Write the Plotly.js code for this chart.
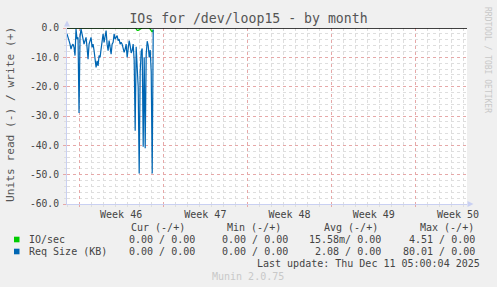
<!DOCTYPE html>
<html>
<head>
<meta charset="utf-8">
<script src="https://cdn.plot.ly/plotly-3.0.1.min.js"></script>
<style>
  html, body { margin: 0; padding: 0; background: #F0F0F0; }
  #chart { width: 497px; height: 287px; }
</style>
</head>
<body>
<div id="chart"></div>
<script>
// ---- data (x in days since Monday of Week 46) ----
const firstSampleDay = -1.0;      // first sample time
const sampleStepDays = 1 / 12;    // 2-hour consolidated samples

// Req Size (KB), read side (drawn negative)
const reqSizeRead = [
  -2.0, -3.8, -4.3, -5.5, -7.2, -6.0, -5.5, -6.6, -9.4, -0.3,
  -3.8, -3.2, -29.0, -3.0, -0.3, -2.0, -3.8, -5.5, -4.3, -3.2,
  -6.6, -10.6, -5.5, -3.8, -3.2, -6.6, -5.5, -7.7, -11.7, -13.4,
  -11.2, -12.9, -9.4, -10.0, -7.2, -4.3, -2.0, -4.9, -3.2, -0.9,
  -5.5, -7.7, -4.3, -6.6, -8.9, -5.5, -4.9, -2.0, -3.8, -3.2,
  -2.6, -4.3, -3.8, -5.5, -4.9, -5.5, -6.6, -8.3, -7.2, -5.5,
  -10.0, -6.6, -4.3, -6.0, -8.5, -7.7, -5.5, -11.0, -35.0, -6.4,
  -12.0, -20.0, -49.6, -15.0, -8.0, -7.0, -40.5, -10.0, -41.0, -9.0,
  -4.5, -6.0, -10.0, -7.5, -15.0, -49.6, -0.5
];
// IO/sec, read side (drawn negative)
const ioSecRead = [
  0, 0, 0, 0, 0, 0, 0, 0, 0, 0,
  0, 0, 0, 0, 0, 0, 0, 0, 0, 0,
  0, 0, 0, 0, 0, 0, 0, 0, 0, 0,
  0, 0, 0, 0, 0, 0, 0, 0, 0, 0,
  0, 0, 0, 0, 0, 0, 0, 0, 0, 0,
  0, 0, 0, 0, 0, 0, 0, 0, 0, 0,
  0, 0, 0, 0, 0, 0, 0, 0, 0, -0.3,
  -0.8, -0.8, -0.6, -0.3, 0, 0, 0, 0, 0, 0,
  0, 0, 0, -0.4, -1.2, -1.4, -0.6
];

const weekStarts   = [0, 7, 14, 21, 28];
const weekCenters  = [3.5, 10.5, 17.5, 24.5, 31.5];
const weekLabels   = ['Week 46', 'Week 47', 'Week 48', 'Week 49', 'Week 50'];
const yTickValues  = [0, -10, -20, -30, -40, -50, -60];
const yTickLabels  = ['0.0', '-10.0', '-20.0', '-30.0', '-40.0', '-50.0', '-60.0'];

const legendNames  = ['IO/sec', 'Req Size (KB)'];
const legendColors = ['#00CC00', '#0066B3'];
const colHeaders   = ['Cur (-/+)', 'Min (-/+)', 'Avg (-/+)', 'Max (-/+)'];
const curValues    = ['0.00 / 0.00', '0.00 / 0.00'];
const minValues    = ['0.00 / 0.00', '0.00 / 0.00'];
const avgValues    = ['15.58m/ 0.00', '2.08 / 0.00'];
const maxValues    = ['4.51 / 0.00', '80.01 / 0.00'];
const lastUpdate   = 'Last update: Thu Dec 11 05:00:04 2025';
const versionText  = 'Munin 2.0.75';
const sideText     = 'RRDTOOL / TOBI OETIKER';

// ---- layout helpers (pixel -> paper) ----
const W = 497, H = 287, L = 67, R = 467, T = 28, B = 204;
const px = v => (v - L) / (R - L);
const py = v => (B - v) / (B - T);

const times = reqSizeRead.map((_, i) => firstSampleDay + i * sampleStepDays);
const xRange = [-1.0, 32.25];

const MONO = 'DejaVu Sans Mono, monospace';
const axisBlue = '#c9d0f2';
const majorGrid = '#e6a8a8';
const minorGrid = '#dedede';

const traces = [
  { x: times, y: ioSecRead, type: 'scatter', mode: 'lines',
    line: { color: legendColors[0], width: 1.2 }, hoverinfo: 'skip' },
  { x: times, y: reqSizeRead, type: 'scatter', mode: 'lines',
    line: { color: legendColors[1], width: 1.2 }, hoverinfo: 'skip' },
  // invisible trace to activate the grid axis
  { x: xRange, y: [null, null], xaxis: 'x2', yaxis: 'y', type: 'scatter',
    mode: 'lines', hoverinfo: 'skip', showlegend: false }
];

const ann = [];
const txt = (x, y, text, opt = {}) => ann.push(Object.assign({
  xref: 'paper', yref: 'paper', x: px(x), y: py(y), text: text,
  showarrow: false, xanchor: 'left', yanchor: 'middle',
  font: { family: MONO, size: 10, color: '#444' }
}, opt));

// y-axis title
txt(11, 115, 'Units read (-) / write (+)', { xanchor: 'center', textangle: -90,
  font: { family: MONO, size: 11.2, color: '#555' } });
// side text
txt(487, 60, sideText, { xanchor: 'center', textangle: 90,
  font: { family: MONO, size: 8, color: '#c8c8c8' } });

// legend table
const headerRight = [187, 283, 380, 476];
colHeaders.forEach((h, i) => txt(headerRight[i], 227.5, h, { xanchor: 'right' }));
const valueRight = [197, 290, 383, 477];
const rowsY = [239.5, 251.5];
legendNames.forEach((n, r) => {
  txt(26.5, rowsY[r], n);
  [curValues, minValues, avgValues, maxValues].forEach((col, c) =>
    txt(valueRight[c], rowsY[r], col[r], { xanchor: 'right' }));
});
txt(482, 263.5, lastUpdate, { xanchor: 'right' });
txt(247.5, 276, versionText, { xanchor: 'center',
  font: { family: MONO, size: 10, color: '#c8c8c8' } });

const shapes = [
  // HRULE at zero
  { type: 'line', xref: 'paper', yref: 'y', x0: 0, x1: 1, y0: 0, y1: 0,
    line: { color: '#000000', width: 1.5 }, layer: 'above' },
  // axis arrows
  { type: 'path', xref: 'paper', yref: 'paper',
    path: `M ${px(64)} ${py(26.5)} L ${px(67)} ${py(20.5)} L ${px(70)} ${py(26.5)} Z`,
    fillcolor: axisBlue, line: { width: 0 } },
  { type: 'path', xref: 'paper', yref: 'paper',
    path: `M ${px(467.5)} ${py(201)} L ${px(473.5)} ${py(204)} L ${px(467.5)} ${py(207)} Z`,
    fillcolor: axisBlue, line: { width: 0 } }
];
legendColors.forEach((c, r) => shapes.push({
  type: 'rect', xref: 'paper', yref: 'paper',
  x0: px(14), x1: px(19.5), y0: py(rowsY[r] - 2.8), y1: py(rowsY[r] + 2.8),
  fillcolor: c, line: { width: 0 }
}));

const layout = {
  width: W, height: H,
  margin: { l: L, r: W - R, t: T, b: H - B, pad: 0 },
  paper_bgcolor: '#F0F0F0', plot_bgcolor: '#FFFFFF',
  showlegend: false,
  title: { text: 'IOs for /dev/loop15 - by month', x: 0.5, xanchor: 'center',
    y: 1 - 18.5 / H, yanchor: 'middle', yref: 'container',
    font: { family: MONO, size: 13.2, color: '#555' } },
  xaxis: {
    range: xRange, tickmode: 'array', tickvals: weekCenters, ticktext: weekLabels,
    showgrid: false, zeroline: false, ticks: '', showline: true,
    linecolor: axisBlue, linewidth: 1,
    tickfont: { family: MONO, size: 10, color: '#444' }, ticklabelstandoff: 1
  },
  xaxis2: {
    overlaying: 'x', anchor: 'y', side: 'bottom', range: xRange,
    tickmode: 'array', tickvals: weekStarts, showticklabels: false,
    showgrid: true, gridcolor: majorGrid, griddash: 'dot', gridwidth: 1,
    ticks: 'outside', ticklen: 2, tickcolor: majorGrid, zeroline: false,
    minor: { tickmode: 'linear', tick0: 0, dtick: 1, showgrid: true,
      gridcolor: minorGrid, griddash: 'dot', gridwidth: 1,
      ticks: 'outside', ticklen: 2, tickcolor: minorGrid }
  },
  yaxis: {
    range: [-60, 0], tickmode: 'array', tickvals: yTickValues, ticktext: yTickLabels,
    showgrid: true, gridcolor: majorGrid, griddash: 'dot', gridwidth: 1,
    zeroline: false, showline: true, linecolor: axisBlue, linewidth: 1,
    ticks: 'outside', ticklen: 3, tickcolor: majorGrid,
    minor: { tickmode: 'linear', tick0: 0, dtick: 2, showgrid: true,
      gridcolor: minorGrid, griddash: 'dot', gridwidth: 1,
      ticks: 'outside', ticklen: 2, tickcolor: minorGrid },
    tickfont: { family: MONO, size: 9.7, color: '#444' }, ticklabelstandoff: 2
  },
  annotations: ann,
  shapes: shapes
};

Plotly.newPlot('chart', traces, layout, { staticPlot: true, displayModeBar: false });
</script>
</body>
</html>
